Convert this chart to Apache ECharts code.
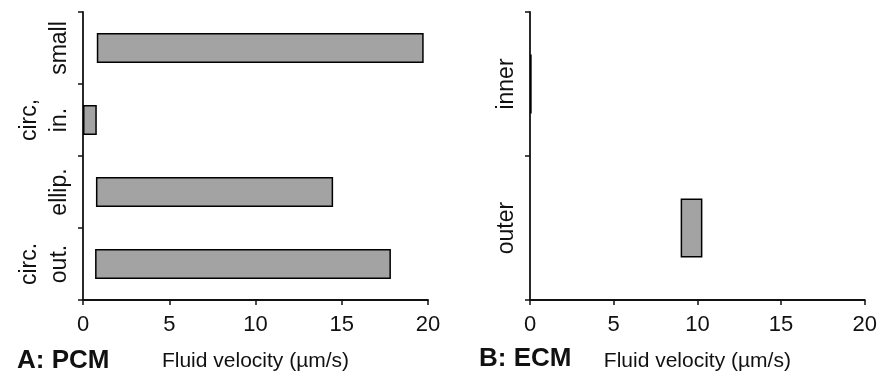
<!DOCTYPE html>
<html>
<head>
<meta charset="utf-8">
<script src="https://cdn.jsdelivr.net/npm/echarts@6/dist/echarts.min.js"></script>
<style>
  html, body { margin: 0; padding: 0; background: #fff; }
  #chart { width: 880px; height: 377px; }
</style>
</head>
<body>
<div id="chart"></div>
<script>
// ========================================
// DATA
// ========================================

// panel A: PCM (bottom to top)
var pcmCategories = ['circ.\nout.', 'ellip.', 'circ,\nin.', 'small'];
var pcmStart = [0.7, 0.75, 0, 0.8];
var pcmEnd = [17.85, 14.5, 0.8, 19.75];

// panel B: ECM (bottom to top)
var ecmCategories = ['outer', 'inner'];
var ecmStart = [9.0, 0];
var ecmEnd = [10.3, 0.1];

var velocityTicks = [0, 5, 10, 15, 20];

// ========================================
// HELPERS
// ========================================

function spans(start, end) {
  return end.map(function (v, i) { return +(v - start[i]).toFixed(3); });
}

var FONT = '"Liberation Sans", Arial, sans-serif';
var INK = '#111';
var BAR_FILL = '#a3a3a3';

function valueAxis(gridIndex) {
  return {
    type: 'value',
    gridIndex: gridIndex,
    min: velocityTicks[0],
    max: velocityTicks[velocityTicks.length - 1],
    interval: velocityTicks[1] - velocityTicks[0],
    name: 'Fluid velocity (\u00b5m/s)',
    nameLocation: 'middle',
    nameGap: 51,
    nameTextStyle: { fontFamily: FONT, fontSize: 21, color: INK },
    splitLine: { show: false },
    axisLine: { show: true, lineStyle: { color: INK, width: 1.8 } },
    axisTick: { show: true, length: 5, lineStyle: { color: INK, width: 1.5 } },
    axisLabel: { fontFamily: FONT, fontSize: 22, color: INK, margin: 14 }
  };
}

function categoryAxis(gridIndex, cats) {
  return {
    type: 'category',
    gridIndex: gridIndex,
    data: cats,
    boundaryGap: true,
    axisLine: { show: true, lineStyle: { color: INK, width: 1.8 } },
    axisTick: { show: true, length: 5, lineStyle: { color: INK, width: 1.5 } },
    axisLabel: {
      rotate: 90,
      fontFamily: FONT,
      fontSize: 23,
      lineHeight: 30,
      color: INK,
      margin: 8,
      align: 'center'
    }
  };
}

function barPair(axisIndex, start, end, width, stackName) {
  return [
    {
      type: 'bar',
      xAxisIndex: axisIndex,
      yAxisIndex: axisIndex,
      stack: stackName,
      data: start,
      barWidth: width,
      silent: true,
      itemStyle: { color: 'transparent' }
    },
    {
      type: 'bar',
      xAxisIndex: axisIndex,
      yAxisIndex: axisIndex,
      stack: stackName,
      data: spans(start, end),
      barWidth: width,
      itemStyle: { color: BAR_FILL, borderColor: '#000', borderWidth: 1.5 }
    }
  ];
}

// ========================================
// CHART
// ========================================

var chart = echarts.init(document.getElementById('chart'));
chart.setOption({
  animation: false,
  backgroundColor: '#fff',
  title: [
    { text: 'A: PCM', left: 12, top: 343, textStyle: { fontFamily: FONT, fontSize: 26, fontWeight: 'bold', color: INK } },
    { text: 'B: ECM', left: 474, top: 341, textStyle: { fontFamily: FONT, fontSize: 26, fontWeight: 'bold', color: INK } }
  ],
  grid: [
    { left: 83, right: 452, top: 12, bottom: 74, containLabel: false },
    { left: 530, right: 15, top: 12, bottom: 74, containLabel: false }
  ],
  xAxis: [valueAxis(0), valueAxis(1)],
  yAxis: [categoryAxis(0, pcmCategories), categoryAxis(1, ecmCategories)],
  series: barPair(0, pcmStart, pcmEnd, 30, 'pcm').concat(barPair(1, ecmStart, ecmEnd, 59, 'ecm'))
});
</script>
</body>
</html>
